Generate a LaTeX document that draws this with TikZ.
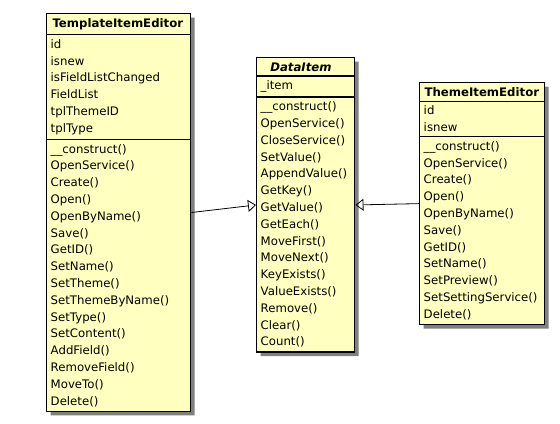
\documentclass[tikz,border=0pt]{standalone}
\usepackage{fontspec}
\setmainfont{DejaVu Sans}
\usetikzlibrary{shapes.multipart,shadows,arrows.meta}
\definecolor{classfill}{HTML}{FFFFC0}
\definecolor{shadowgray}{HTML}{808080}

\begin{document}
\begin{tikzpicture}
  [x=0.75pt,y=-0.75pt,
   every node/.style={font=\fontsize{8.8}{12.6}\selectfont},
   umlclass/.style={rectangle split,rectangle split parts=3,draw,line width=1.1pt,
     fill=classfill,align=left,inner xsep=3pt,inner ysep=3pt,anchor=north west,
     drop shadow={shadow xshift=3pt,shadow yshift=-3pt,fill=shadowgray,opacity=1}},
   inherits/.style={-{Triangle[open,length=6pt,width=9pt]},line width=0.6pt}]
  \useasboundingbox (0,0) rectangle (560,424);

  \node [umlclass,text width=102pt] (tpl) at (46,13)
    {\hfil\textbf{TemplateItemEditor}\hfil\null
     \nodepart{second}
     id\\ isnew\\ isFieldListChanged\\ FieldList\\ tplThemeID\\ tplType
     \nodepart{third}
     \_\_construct()\\ OpenService()\\ Create()\\ Open()\\ OpenByName()\\
     Save()\\ GetID()\\ SetName()\\ SetTheme()\\ SetThemeByName()\\
     SetType()\\ SetContent()\\ AddField()\\ RemoveField()\\ MoveTo()\\ Delete()};

  \node [umlclass,text width=67.5pt] (data) at (256,57)
    {\hfil\textbf{\textit{DataItem}}\hfil\null
     \nodepart{second}
     \_item
     \nodepart{third}
     \_\_construct()\\ OpenService()\\ CloseService()\\ SetValue()\\
     AppendValue()\\ GetKey()\\ GetValue()\\ GetEach()\\ MoveFirst()\\
     MoveNext()\\ KeyExists()\\ ValueExists()\\ Remove()\\ Clear()\\ Count()};

  \node [umlclass,text width=87.75pt] (theme) at (419,82)
    {\hfil\textbf{ThemeItemEditor}\hfil\null
     \nodepart{second}
     id\\ isnew
     \nodepart{third}
     \_\_construct()\\ OpenService()\\ Create()\\ Open()\\ OpenByName()\\
     Save()\\ GetID()\\ SetName()\\ SetPreview()\\ SetSettingService()\\ Delete()};

  \draw [inherits] (tpl.east) -- (data.west);
  \draw [inherits] (theme.west) -- (data.east);

\end{tikzpicture}
\end{document}
